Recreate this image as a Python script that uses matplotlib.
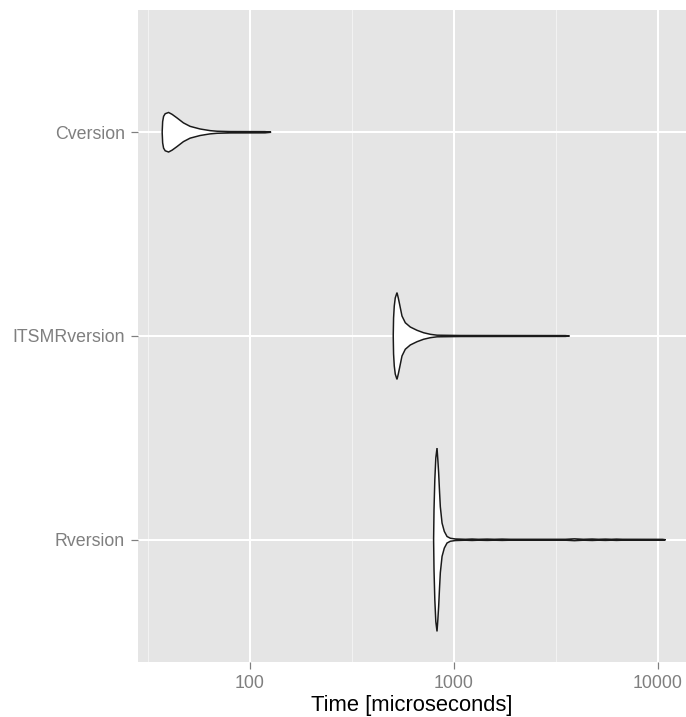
#!/usr/bin/env python3
"""Violin plot of microbenchmark timings for three implementations (log time axis).

Outlines were read off the original ggplot figure: for each version a list of
times (microseconds) and the violin half-width at that time, in units of the
category spacing.
"""

import matplotlib
matplotlib.use("Agg")
import matplotlib.pyplot as plt
from matplotlib.ticker import FixedLocator, NullFormatter

CATEGORIES = ["Cversion", "ITSMRversion", "Rversion"]

C_TIME = [37.3, 37.5, 37.9, 38.6, 40.1, 41.7, 44.0, 47.4, 51.1, 57.2, 64.0,
          69.3, 80.2, 119, 127.4]
C_HALF = [0, 0.052, 0.078, 0.091, 0.097, 0.088, 0.071, 0.046, 0.029, 0.016,
          0.008, 0.005, 0.0034, 0.003, 0]

ITSMR_TIME = [505.0, 506.9, 510.9, 516.7, 526.8, 534.5, 542.5, 557.4, 578.6,
              612.2, 660.2, 711.2, 767.2, 827.4, 1076, 3521, 3684]
ITSMR_HALF = [0, 0.088, 0.147, 0.187, 0.213, 0.187, 0.156, 0.098, 0.065,
              0.044, 0.028, 0.016, 0.0083, 0.004, 0.0025, 0.002, 0]

R_TIME = [796.2, 799.8, 807.1, 816.3, 827.4, 835.0, 842.6, 851.2, 858.8, 875.6,
          898.2, 926.2, 961.2, 1017, 1139, 1228, 1319, 1455, 1580, 1723, 1892,
          3521, 3896, 4313, 4759, 5109, 5528, 5917, 6261, 6699, 10522, 10884]
R_HALF = [0, 0.147, 0.294, 0.402, 0.450, 0.393, 0.329, 0.236, 0.162, 0.082,
          0.041, 0.016, 0.0074, 0.0039, 0.0022, 0.0035, 0.0022, 0.0032, 0.0022,
          0.0032, 0.0022, 0.0022, 0.0045, 0.0022, 0.0035, 0.0022, 0.0032,
          0.0022, 0.0032, 0.0022, 0.002, 0]

X_TICKS = [100, 1000, 10000]
X_MINOR = [31.62, 316.2, 3162]


def main():
    plt.rcParams["font.family"] = ["Liberation Sans", "DejaVu Sans"]
    fig = plt.figure(figsize=(686 / 144, 717 / 144), dpi=144)
    ax = fig.add_axes([138 / 686, 55 / 717, 548 / 686, 652 / 717])
    ax.set_facecolor("#E5E5E5")
    for side in ax.spines.values():
        side.set_visible(False)

    ax.set_xscale("log")
    ax.set_xlim(28.4, 13710)
    ax.set_ylim(0.4, 3.6)

    ax.xaxis.set_major_locator(FixedLocator(X_TICKS))
    ax.set_xticklabels([str(t) for t in X_TICKS])
    ax.xaxis.set_minor_locator(FixedLocator(X_MINOR))
    ax.xaxis.set_minor_formatter(NullFormatter())
    ax.tick_params(axis="x", which="minor", length=0)

    ypos = [3, 2, 1]
    ax.set_yticks(ypos)
    ax.set_yticklabels(CATEGORIES)
    ax.tick_params(axis="both", which="major", length=3.5, width=0.6,
                   color="#7F7F7F", labelcolor="#7F7F7F", labelsize=8.9, pad=3)

    ax.grid(which="major", color="white", linewidth=1.0)
    ax.grid(which="minor", axis="x", color="#F2F2F2", linewidth=0.5)
    ax.set_axisbelow(True)

    series = [(C_TIME, C_HALF), (ITSMR_TIME, ITSMR_HALF), (R_TIME, R_HALF)]
    for y, (t, h) in zip(ypos, series):
        xs = list(t) + list(t[::-1])
        ys = [y + v for v in h] + [y - v for v in h[::-1]]
        ax.fill(xs, ys, facecolor="white", edgecolor="#1A1A1A",
                linewidth=0.75, zorder=3)

    ax.set_xlabel("Time [microseconds]", fontsize=11, color="black", labelpad=1.5)
    fig.savefig("out.png", dpi=144)
    plt.close(fig)


if __name__ == "__main__":
    main()
